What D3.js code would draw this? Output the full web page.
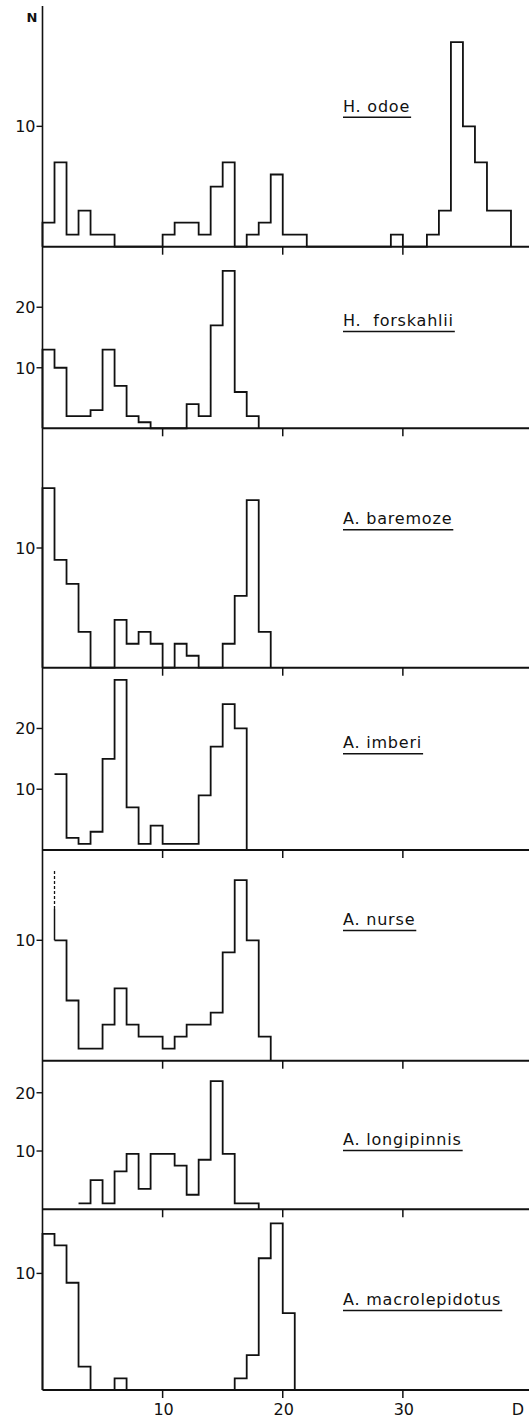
<!DOCTYPE html>
<html>
<head>
    <meta charset="UTF-8">
    <title>Length frequency histograms</title>
    <script src="https://d3js.org/d3.v7.min.js"></script>
    <style>
        body { margin: 0; background: #fff; }
        svg { display: block; }
        text { font-family: "DejaVu Sans", sans-serif; fill: #111; }
    </style>
</head>
<body>
    <svg id="chart"></svg>

    <script>
        const WIDTH = 529;
        const HEIGHT = 1422;

        // species, top panel to bottom panel
        const species = ["H. odoe", "H.\u00a0 forskahlii", "A. baremoze", "A. imberi",
                         "A. nurse", "A. longipinnis", "A. macrolepidotus"];

        // N per 1-unit class of D, first value is class 0-1
        const odoe = [2, 7, 1, 3, 1, 1, 0, 0, 0, 0, 1, 2, 2, 1, 5, 7, 0, 1, 2, 6,
                      1, 1, 0, 0, 0, 0, 0, 0, 0, 1, 0, 0, 1, 3, 17, 10, 7, 3, 3];
        const forskahlii = [13, 10, 2, 2, 3, 13, 7, 2, 1, 0, 0, 0, 4, 2, 17, 26, 6, 2];
        const baremoze = [15, 9, 7, 3, 0, 0, 4, 2, 3, 2, 0, 2, 1, 0, 0, 2, 6, 14, 3];
        const imberi = [0, 12.5, 2, 1, 3, 15, 28, 7, 1, 4, 1, 1, 1, 9, 17, 24, 20];
        const nurse = [0, 10, 5, 1, 1, 3, 6, 3, 2, 2, 1, 2, 3, 3, 4, 9, 15, 10, 2];
        const longipinnis = [0, 0, 0, 1, 5, 1, 6.5, 9.5, 3.5, 9.5, 9.5, 7.5, 2.5, 8.5, 22, 9.5, 1, 1];
        const macrolepidotus = [13.4, 12.4, 9.2, 2, 0, 0, 1, 0, 0, 0, 0, 0, 0, 0, 0, 0, 1, 3, 11.3, 14.3, 6.6];

        // off-scale first class of A. nurse: solid up to the first value, dashed to the second
        const nurse_extension = [12.6, 15.9];

        const counts = [odoe, forskahlii, baremoze, imberi, nurse, longipinnis, macrolepidotus];
        const y_ticks = [[10], [10, 20], [10], [10, 20], [10], [10, 20], [10]];
        const x_ticks = [10, 20, 30];

        // panel layout (pixels), top to bottom
        const panel_base = [246.7, 428.3, 667.7, 850, 1060.7, 1209.3, 1390];
        const panel_top = [6, 246.7, 428.3, 667.7, 850, 1060.7, 1209.3];
        const y_max = [20, 30, 20, 30, 17.5, 25.5, 15.5];
        const label_y = [111.7, 326, 524.3, 748.3, 925, 1145, 1305];
        const LABEL_X = 343;
        // series whose first class has no left edge drawn
        const open_left = [false, false, false, true, true, true, false];

        const svg = d3.select("#chart")
            .attr("width", WIDTH)
            .attr("height", HEIGHT);

        const x = d3.scaleLinear()
            .domain([0, 40.5])
            .range([42.5, WIDTH]);

        // y axis, one line through all panels
        svg.append("line")
            .attr("x1", x(0)).attr("x2", x(0))
            .attr("y1", panel_top[0]).attr("y2", panel_base[6])
            .style("stroke", "#111")
            .style("stroke-width", 1.6);

        svg.append("text")
            .attr("x", 32)
            .attr("y", 22)
            .attr("text-anchor", "middle")
            .style("font-size", "13px")
            .style("font-weight", "bold")
            .text("N");

        const step_line = function(y) {
            return d3.line()
                .x((d) => x(d[0]))
                .y((d) => y(d[1]))
                .curve(d3.curveStepAfter);
        };

        counts.forEach(function(values, p) {
            const y = d3.scaleLinear()
                .domain([0, y_max[p]])
                .range([panel_base[p], panel_top[p]]);

            const g = svg.append("g").attr("class", "panel");

            // baseline (x axis of this panel)
            g.append("line")
                .attr("x1", x(0)).attr("x2", WIDTH)
                .attr("y1", y(0)).attr("y2", y(0))
                .style("stroke", "#111")
                .style("stroke-width", 2);

            // x ticks hang below the baseline
            g.selectAll(".xtick").data(x_ticks)
                .enter().append("line")
                .attr("class", "xtick")
                .attr("x1", (d) => x(d)).attr("x2", (d) => x(d))
                .attr("y1", y(0)).attr("y2", y(0) + 8)
                .style("stroke", "#111")
                .style("stroke-width", 1.5);

            // y ticks and labels
            g.selectAll(".ytick").data(y_ticks[p])
                .enter().append("line")
                .attr("class", "ytick")
                .attr("x1", x(0) - 6).attr("x2", x(0))
                .attr("y1", (d) => y(d)).attr("y2", (d) => y(d))
                .style("stroke", "#111")
                .style("stroke-width", 1.4);

            g.selectAll(".ylab").data(y_ticks[p])
                .enter().append("text")
                .attr("class", "ylab")
                .attr("x", x(0) - 7)
                .attr("y", (d) => y(d))
                .attr("dy", "0.36em")
                .attr("text-anchor", "end")
                .style("font-size", "16px")
                .text((d) => d);

            // histogram outline as a step line
            const first = values.findIndex((v) => v > 0);
            const pts = [];
            if (!open_left[p]) pts.push([first, 0]);
            for (let i = first; i < values.length; i++) pts.push([i, values[i]]);
            pts.push([values.length, 0]);

            g.append("path")
                .attr("d", step_line(y)(pts))
                .style("fill", "none")
                .style("stroke", "#111")
                .style("stroke-width", 1.8);

            if (species[p] == "A. nurse") {
                g.append("line")
                    .attr("x1", x(first)).attr("x2", x(first))
                    .attr("y1", y(values[first])).attr("y2", y(nurse_extension[0]))
                    .style("stroke", "#111")
                    .style("stroke-width", 1.5);
                g.append("line")
                    .attr("x1", x(first)).attr("x2", x(first))
                    .attr("y1", y(nurse_extension[0])).attr("y2", y(nurse_extension[1]))
                    .style("stroke", "#111")
                    .style("stroke-width", 1.3)
                    .style("stroke-dasharray", "3,2");
            }

            // underlined species name
            const label = g.append("text")
                .attr("x", LABEL_X)
                .attr("y", label_y[p])
                .style("font-size", "16px")
                .style("letter-spacing", "0.8px")
                .text(species[p]);

            const len = label.node().getComputedTextLength();
            g.append("line")
                .attr("x1", LABEL_X).attr("x2", LABEL_X + len + 1)
                .attr("y1", label_y[p] + 5.5).attr("y2", label_y[p] + 5.5)
                .style("stroke", "#111")
                .style("stroke-width", 1.4);
        });

        // x tick labels under the bottom panel
        svg.selectAll(".xlab").data(x_ticks)
            .enter().append("text")
            .attr("class", "xlab")
            .attr("x", (d) => x(d) + 1)
            .attr("y", 1415)
            .attr("text-anchor", "middle")
            .style("font-size", "16px")
            .text((d) => d);

        svg.append("text")
            .attr("x", 518)
            .attr("y", 1415)
            .attr("text-anchor", "middle")
            .style("font-size", "16px")
            .text("D");
    </script>
</body>
</html>
